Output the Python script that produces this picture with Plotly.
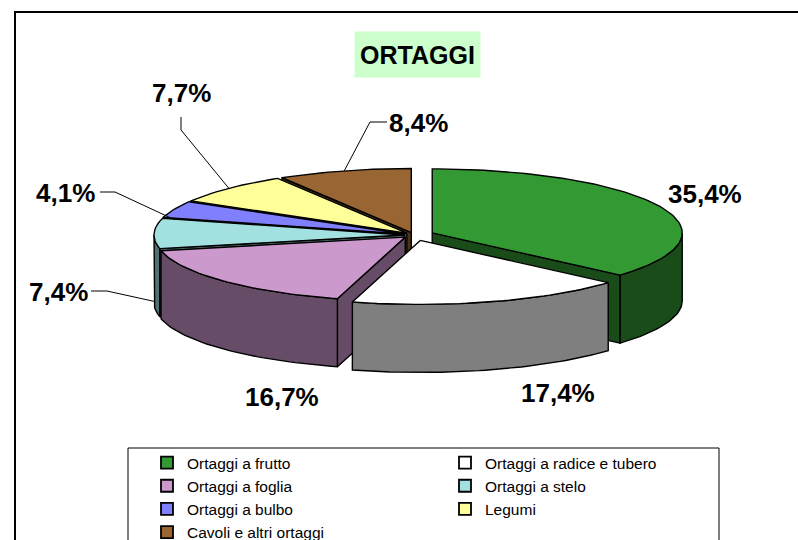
import numpy as np
import plotly.graph_objects as go

# ---------------- data ----------------
categories = [
    "Ortaggi a frutto",
    "Ortaggi a radice e tubero",
    "Ortaggi a foglia",
    "Ortaggi a stelo",
    "Ortaggi a bulbo",
    "Legumi",
    "Cavoli e altri ortaggi",
]
shares = [35.4, 17.4, 16.7, 7.4, 4.1, 7.7, 8.4]
chart_title = "ORTAGGI"

# ---------------- style ----------------
top_colors = ["#339933", "#FFFFFF", "#CC99CC", "#A3E0E0", "#8080FF", "#FFFF99", "#996633"]


def darken(hx, f=0.5):
    hx = hx.lstrip("#")
    r, g, b = (int(hx[i:i + 2], 16) for i in (0, 2, 4))
    return "#%02X%02X%02X" % (int(r * f), int(g * f), int(b * f))


side_colors = [darken(c) for c in top_colors]

FONT = "Liberation Sans, Arial, sans-serif"
CX, CY = 414, 235        # pie centre (pixel-like data units)
RX, RY = 250, 64         # ellipse radii of top face
DEPTH = 68               # thickness of the pie
pulls = [20, 22, 12, 10, 10, 10, 10]   # explosion of each slice
label_pos = [(705, 194), (558, 393), (282, 397), (58, 292), (65, 193), (181, 93), (418, 123)]
# leader: (start offset from label, elbow offset from label, anchor depth fraction)
leaders = [None, None, None,
           ((33, -1), (49, -1), 1.0),
           ((35, -1), (50, -1), 0.15),
           ((0, 24), (0, 37), 0.0),
           ((-31, -1), (-48, -1), 0.0)]

W, H = 798, 540
OUT = dict(color="black", width=1.4)

total = float(sum(shares))
bounds = np.concatenate([[0.0], np.cumsum(shares)]) / total * 360.0


def rim(t_deg, ox, oy, dz=0.0):
    t = np.radians(t_deg)
    return CX + ox + RX * np.sin(t), CY + oy - RY * np.cos(t) + dz


def arc(t0, t1, ox, oy, dz=0.0):
    n = max(2, int(abs(t1 - t0) / 1.5) + 2)
    ts = np.linspace(t0, t1, n)
    return rim(ts, ox, oy, dz)


fig = go.Figure()


def poly(xs, ys, color):
    fig.add_trace(go.Scatter(
        x=list(xs) + [xs[0]], y=list(ys) + [ys[0]], mode="lines", fill="toself",
        fillcolor=color, line=OUT, showlegend=False, hoverinfo="skip"))


mids = [(bounds[i] + bounds[i + 1]) / 2 for i in range(len(shares))]
order = sorted(range(len(shares)), key=lambda i: -np.cos(np.radians(mids[i])))

for i in order:
    ts, te, m = bounds[i], bounds[i + 1], np.radians(mids[i])
    ox = pulls[i] * np.sin(m)
    oy = -pulls[i] * RY / RX * np.cos(m)
    vx, vy = CX + ox, CY + oy
    # radial faces
    for t, vis in ((ts, np.sin(np.radians(ts)) < -1e-6), (te, np.sin(np.radians(te)) > 1e-6)):
        if vis:
            rx, ry = rim(t, ox, oy)
            poly([vx, rx, rx, vx], [vy, ry, ry + DEPTH, vy + DEPTH], side_colors[i])
    # outer curved side (front half only)
    lo, hi = max(ts, 90.0), min(te, 270.0)
    if lo < hi:
        ax, ay = arc(lo, hi, ox, oy)
        bx, by = arc(hi, lo, ox, oy, DEPTH)
        poly(np.concatenate([ax, bx]), np.concatenate([ay, by]), side_colors[i])
    # top face
    ax, ay = arc(ts, te, ox, oy)
    poly(np.concatenate([[vx], ax]), np.concatenate([[vy], ay]), top_colors[i])

# leader lines
for i, ld in enumerate(leaders):
    if ld is None:
        continue
    (sx, sy), (ex, ey), frac = ld
    lx, ly = label_pos[i]
    m = np.radians(mids[i])
    ox = pulls[i] * np.sin(m)
    oy = -pulls[i] * RY / RX * np.cos(m)
    axp, ayp = rim(mids[i], ox, oy, DEPTH * frac)
    fig.add_trace(go.Scatter(
        x=[lx + sx, lx + ex, axp], y=[ly + sy, ly + ey, ayp], mode="lines",
        line=dict(color="black", width=1), showlegend=False, hoverinfo="skip"))

# legend entries
for name, col in zip(categories, top_colors):
    fig.add_trace(go.Scatter(
        x=[None], y=[None], mode="markers", name=name,
        marker=dict(symbol="square", size=12, color=col, line=dict(color="black", width=1.8))))

annotations = []
for i, v in enumerate(shares):
    lx, ly = label_pos[i]
    annotations.append(dict(
        x=lx, y=ly, xref="x", yref="y", showarrow=False,
        text="<b>" + f"{v:.1f}".replace(".", ",") + "%</b>",
        font=dict(family=FONT, size=26, color="black")))
annotations.append(dict(
    x=417, y=54, xref="x", yref="y", showarrow=False,
    text="<b>" + chart_title + "</b>", bgcolor="#CCFFCC",
    width=123, height=43, borderpad=1,
    font=dict(family=FONT, size=25, color="black")))

shapes = [
    dict(type="rect", xref="x", yref="y", x0=15, y0=12, x1=830, y1=580,
         line=dict(color="black", width=2), layer="below"),
    dict(type="rect", xref="x", yref="y", x0=128, y0=448, x1=719, y1=580,
         line=dict(color="black", width=1), fillcolor="white", layer="below"),
]

fig.update_layout(
    width=W, height=H, margin=dict(l=0, r=0, t=0, b=0, autoexpand=False),
    paper_bgcolor="white", plot_bgcolor="white",
    xaxis=dict(range=[0, W], visible=False, fixedrange=True),
    yaxis=dict(range=[H, 0], visible=False, fixedrange=True),
    annotations=annotations, shapes=shapes,
    showlegend=True,
    legend=dict(orientation="h", x=147 / W, xanchor="left", y=1 - 446 / H, yanchor="top",
                entrywidth=253, entrywidthmode="pixels", traceorder="normal",
                font=dict(family=FONT, size=15.5, color="black"),
                bgcolor="rgba(0,0,0,0)", borderwidth=0, itemwidth=30),
)

fig.write_html(
    "out.html",
    config={"displayModeBar": False},
    post_script="document.body.style.margin='0px';document.body.style.overflow='hidden';",
)
